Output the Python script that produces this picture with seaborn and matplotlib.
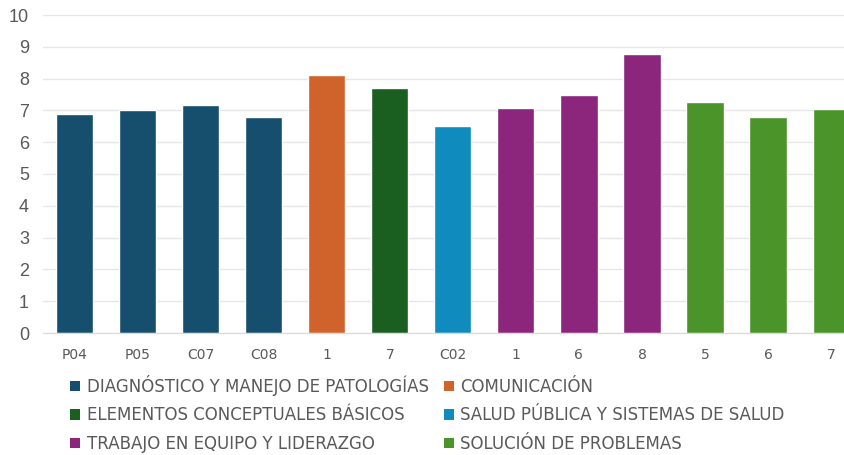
import matplotlib
matplotlib.use("Agg")
import matplotlib.pyplot as plt
import seaborn as sns
import pandas as pd
from matplotlib.patches import Patch

labels = ["P04", "P05", "C07", "C08", "1", "7", "C02", "1", "6", "8", "5", "6", "7"]
values = [6.9, 7.0, 7.17, 6.8, 8.1, 7.7, 6.5, 7.08, 7.47, 8.77, 7.27, 6.8, 7.04]
groups = ["DIAGNÓSTICO Y MANEJO DE PATOLOGÍAS"] * 4 + ["COMUNICACIÓN", "ELEMENTOS CONCEPTUALES BÁSICOS",
          "SALUD PÚBLICA Y SISTEMAS DE SALUD"] + ["TRABAJO EN EQUIPO Y LIDERAZGO"] * 3 + ["SOLUCIÓN DE PROBLEMAS"] * 3
group_names = ["DIAGNÓSTICO Y MANEJO DE PATOLOGÍAS", "COMUNICACIÓN", "ELEMENTOS CONCEPTUALES BÁSICOS",
               "SALUD PÚBLICA Y SISTEMAS DE SALUD", "TRABAJO EN EQUIPO Y LIDERAZGO", "SOLUCIÓN DE PROBLEMAS"]
group_colors = ["#164F6D", "#D0632B", "#1A5E20", "#0F8BBE", "#8B267C", "#4A9429"]

keys = [f"k{i}" for i in range(len(labels))]
df = pd.DataFrame({"key": keys, "value": values, "group": groups})
palette = dict(zip(group_names, group_colors))

sns.set_style("white")
fig = plt.figure(figsize=(8.45, 4.55), dpi=100)
ax = fig.add_axes([43 / 845, 1 - 333 / 455, 1 - 43 / 845, (333 - 15) / 455])
sns.barplot(data=df, x="key", y="value", hue="group", order=keys, hue_order=group_names,
            palette=palette, dodge=False, width=0.59, legend=False, ax=ax, saturation=1)

ax.set_xlim(-0.5, 12.22)
ax.set_ylim(0, 10)
ax.set_yticks(range(0, 11))
ax.yaxis.grid(True, color="#E6E6E6", linewidth=1)
ax.set_axisbelow(True)
for s in ["top", "right", "left"]:
    ax.spines[s].set_visible(False)
ax.spines["bottom"].set_color("#D9D9D9")
ax.set_xlabel("")
ax.set_ylabel("")
ax.set_xticks(range(len(labels)))
narrow = ["Liberation Sans Narrow", "DejaVu Sans"]
ax.set_xticklabels(labels, fontsize=10, color="#595959", family=narrow)
for t in ax.get_yticklabels():
    t.set_fontsize(13)
    t.set_color("#595959")
    t.set_family(["Liberation Sans", "DejaVu Sans"])
ax.tick_params(axis="both", length=0)
ax.tick_params(axis="y", pad=10)
ax.tick_params(axis="x", pad=11)

order = [0, 2, 4, 1, 3, 5]
handles = [Patch(facecolor=group_colors[i], edgecolor="none") for i in order]
names = [group_names[i] for i in order]
leg = fig.legend(handles, names, ncol=2, loc="upper left", bbox_to_anchor=(70 / 845, 1 - 375 / 455),
                 frameon=False, prop={"family": narrow, "size": 12}, handlelength=0.6, handleheight=0.6,
                 handletextpad=0.4, columnspacing=0.9, labelspacing=0.62, borderaxespad=0, borderpad=0)
for t in leg.get_texts():
    t.set_color("#595959")

fig.savefig("out.png", dpi=100)
